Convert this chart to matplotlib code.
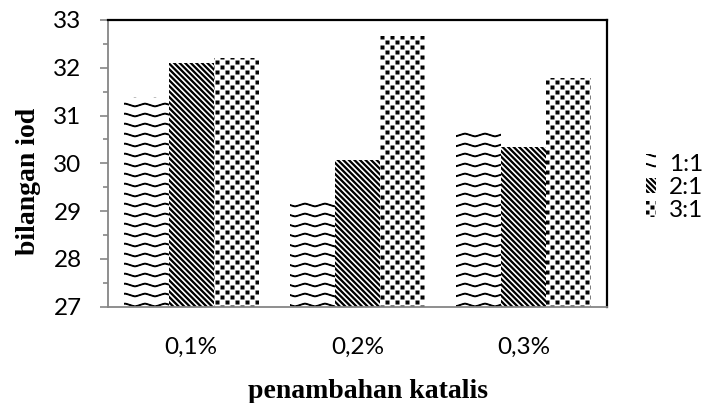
import matplotlib
matplotlib.use("Agg")
import matplotlib.pyplot as plt
import numpy as np
from matplotlib import hatch as mhatch
from matplotlib.path import Path

# data
categories = ["0,1%", "0,2%", "0,3%"]
series_names = ["1:1", "2:1", "3:1"]
val_11 = [31.39, 29.22, 30.66]
val_21 = [32.10, 30.07, 30.33]
val_31 = [32.21, 32.66, 31.78]
y_ticks = [27, 28, 29, 30, 31, 32, 33]


# custom hatch patterns to mimic the Excel fills
# 'o' -> wavy rows, '\\' -> dense diagonal stripes, '.' -> square dots
# every pattern is a thin filled shape, the hatch stroke adds ~1px around it
class WaveHatch(mhatch.HatchPatternBase):
    def __init__(self, hatch, density):
        self.num_rows = hatch.count('o') * 5
        self.pts = 101
        self.num_vertices = self.num_rows * (self.pts * 2 + 1)

    def set_vertices_and_codes(self, vertices, codes):
        x = np.linspace(-0.05, 1.05, self.pts)
        wave = 0.017 * (2 / np.pi) * np.arcsin(0.95 * np.sin(2 * np.pi * 5 * x))
        n = 2 * self.pts + 1
        half = 0.004
        for i in range(self.num_rows):
            y = (i + 0.5) / self.num_rows + wave
            seg = slice(i * n, (i + 1) * n)
            vertices[seg, 0] = np.concatenate([x, x[::-1], x[:1]])
            vertices[seg, 1] = np.concatenate([y + half, (y - half)[::-1], y[:1] + half])
            codes[seg] = Path.LINETO
            codes[i * n] = Path.MOVETO
            codes[(i + 1) * n - 1] = Path.CLOSEPOLY


class StripeHatch(mhatch.HatchPatternBase):
    def __init__(self, hatch, density):
        self.num_lines = hatch.count('\\') * density
        self.num_vertices = (2 * self.num_lines + 1) * 5 if self.num_lines else 0

    def set_vertices_and_codes(self, vertices, codes):
        d = 0.008
        k = 0
        for j in range(2 * self.num_lines + 1):
            c = j / self.num_lines
            vertices[k:k + 5] = [[-0.1, c + 0.1 + d], [1.1, c - 1.1 + d],
                                 [1.1, c - 1.1 - d], [-0.1, c + 0.1 - d],
                                 [-0.1, c + 0.1 + d]]
            codes[k:k + 5] = [Path.MOVETO, Path.LINETO, Path.LINETO,
                              Path.LINETO, Path.CLOSEPOLY]
            k += 5


class DotHatch(mhatch.HatchPatternBase):
    def __init__(self, hatch, density):
        self.ncols = hatch.count('.') * 5
        self.nrows = self.ncols * 2
        self.num_vertices = self.ncols * self.nrows * 5

    def set_vertices_and_codes(self, vertices, codes):
        h = 0.0145
        sq = np.array([[-h, -h], [h, -h], [h, h], [-h, h], [-h, -h]])
        k = 0
        for r in range(self.nrows):
            cy = (r + 0.5) / self.nrows
            for col in range(self.ncols):
                cx = (col + 0.25 + 0.5 * (r % 2)) / self.ncols
                vertices[k:k + 5] = sq + [cx, cy]
                codes[k:k + 5] = [Path.MOVETO, Path.LINETO, Path.LINETO,
                                  Path.LINETO, Path.CLOSEPOLY]
                k += 5


mhatch._hatch_types = [WaveHatch, StripeHatch, DotHatch]
plt.rcParams['hatch.linewidth'] = 0.8

tick_font = ['Lato', 'DejaVu Sans']
label_font = ['Liberation Serif', 'DejaVu Serif']
grey = '#868686'

fig = plt.figure(figsize=(7.03, 4.03), dpi=100)
ax = fig.add_axes([108 / 703, 1 - 306.5 / 403, 499 / 703, 286.5 / 403])

x = np.arange(len(categories))
w = 0.27
hatches = ['oo', '\\\\\\', '..']
for i, (vals, name) in enumerate(zip([val_11, val_21, val_31], series_names)):
    ax.bar(x + (i - 1) * w, vals, w, bottom=0, label=name, facecolor='white',
           edgecolor='black', linewidth=0, hatch=hatches[i])

ax.set_xlim(-0.5, 2.5)
ax.set_ylim(27, 33)
ax.set_yticks(y_ticks)
ax.set_yticks(np.arange(27.5, 33, 1), minor=True)
ax.set_xticks(x)
ax.set_xticklabels(categories)

ax.tick_params(labelsize=17.5, labelfontfamily=tick_font)
ax.tick_params(axis='y', which='major', direction='out', length=6, width=1.2,
               color=grey, pad=13)
ax.tick_params(axis='y', which='minor', direction='out', length=3.5, width=1.2,
               color=grey)
ax.tick_params(axis='x', length=0, pad=22)

ax.spines['left'].set_color(grey)
ax.spines['left'].set_linewidth(1.3)
ax.spines['bottom'].set_color(grey)
ax.spines['bottom'].set_linewidth(1.3)
ax.spines['top'].set_linewidth(1.6)
ax.spines['right'].set_linewidth(1.6)

ax.set_ylabel('bilangan iod', fontfamily=label_font, fontweight='bold',
              fontsize=20)
ax.yaxis.set_label_coords(-(108 - 29) / 499, (306.5 - 181) / 286.5)
ax.set_xlabel('penambahan katalis', fontfamily=label_font, fontweight='bold',
              fontsize=20)
ax.xaxis.set_label_coords((368 - 108) / 499, -(391 - 306.5) / 286.5)
ax.xaxis.label.set_va('center')
ax.yaxis.label.set_va('center')

leg = fig.legend(loc='center left', bbox_to_anchor=(646 / 703, 1 - 187.5 / 403),
                 frameon=False, borderpad=0, borderaxespad=0,
                 handlelength=0.4, handleheight=0.6, handletextpad=0.55,
                 labelspacing=0.1, prop={'family': tick_font, 'size': 17.5})

fig.savefig('out.png', dpi=100)
